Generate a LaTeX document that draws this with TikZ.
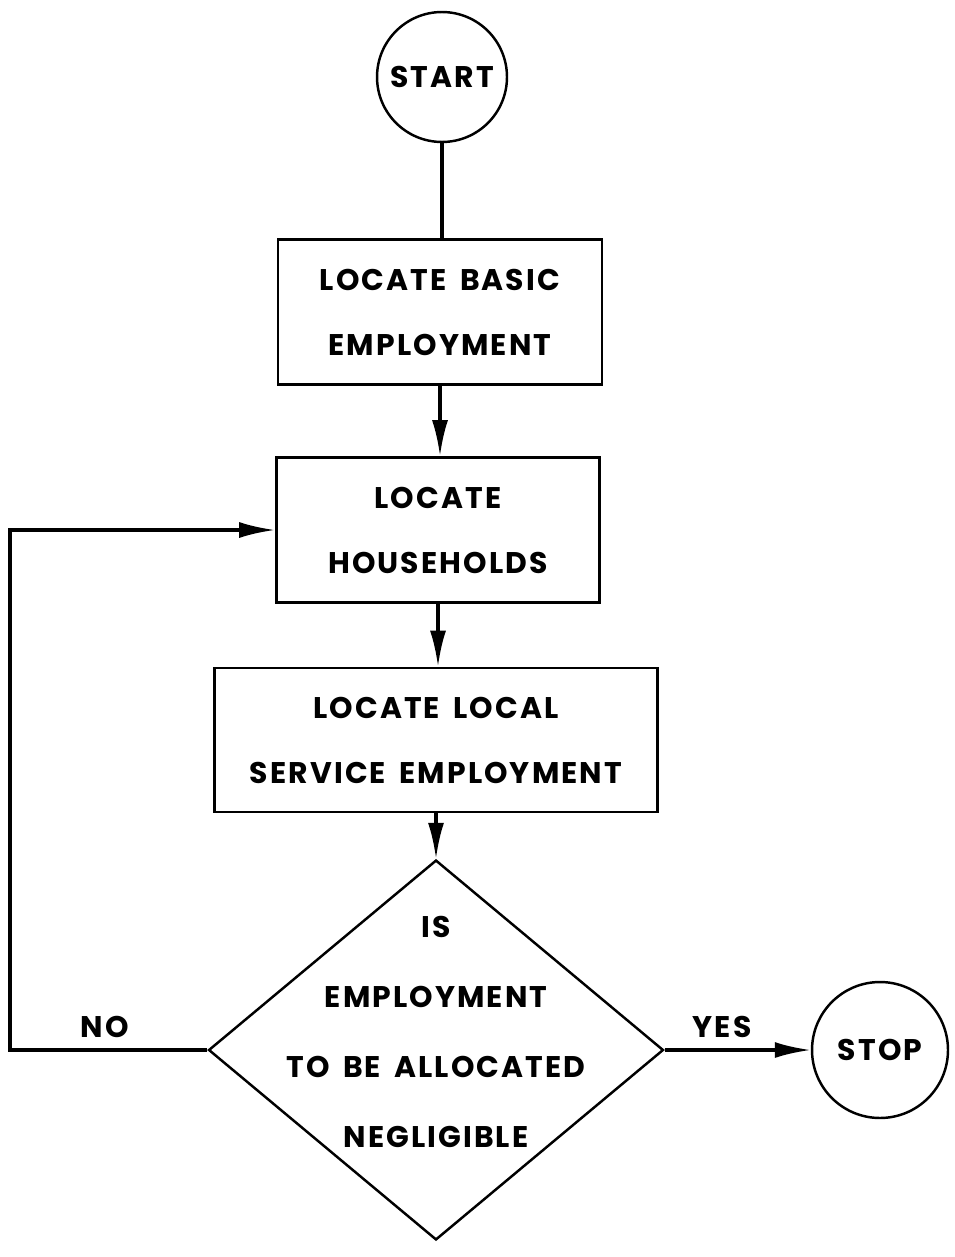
\documentclass[tikz,border=0pt]{standalone}
\usepackage{fontspec}
\setmainfont{Poppins}[LetterSpace=7,WordSpace=1.6]
\usetikzlibrary{shapes.geometric,arrows.meta}
\tikzset{
    RA/.style ={rectangle,draw,line width=1.6pt,inner sep=0pt},
    CC/.style ={circle,draw,line width=1.4pt,inner sep=0pt},
    DM/.style ={diamond,draw,line width=1.4pt,minimum width=9.1cm,minimum height=7.6cm,inner sep=0pt},
    TX/.style ={align=center,font=\bfseries\fontsize{17pt}{37pt}\selectfont},
    AR/.style ={line width=1.9pt,-{Latex[length=0.72cm,width=0.32cm]}}}
\begin{document}
\begin{tikzpicture}[x=0.02cm,y=-0.02cm]
    \useasboundingbox (0,0) rectangle (954,1257);
    \node[CC,TX,minimum size=2.6cm](1) at(442,77){START};
    \node[RA,TX,minimum width=6.48cm,minimum height=2.9cm](2) at(440,312){LOCATE BASIC\\EMPLOYMENT};
    \node[RA,TX,minimum width=6.46cm,minimum height=2.9cm](3) at(438,530){LOCATE\\HOUSEHOLDS};
    \node[RA,TX,minimum width=8.86cm,minimum height=2.88cm](4) at(436,740){LOCATE LOCAL\\SERVICE EMPLOYMENT};
    \node[DM](5) at(436,1050){};
    \node[TX,font=\bfseries\fontsize{17pt}{40pt}\selectfont](6) at(436,1032)
        {IS\\EMPLOYMENT\\TO BE ALLOCATED\\NEGLIGIBLE};
    \node[CC,TX,minimum size=2.72cm](7) at(880,1050){STOP};
    \coordinate(8) at(10,1050);
    \node[TX](9) at(105,1027){NO};
    \node[TX](10) at(722,1027){YES};
    \draw[line width=1.9pt] (1.south) -- (1.south|-2.north);
    \draw[AR] (2.south) -- (2.south|-3.north);
    \draw[AR] (3.south) -- (3.south|-4.north);
    \draw[AR] (4.south) -- (5.north);
    \draw[AR] (5.east) -- (7.west);
    \draw[AR] (5.west) -- (8) |- (3.west);
\end{tikzpicture}
\end{document}
